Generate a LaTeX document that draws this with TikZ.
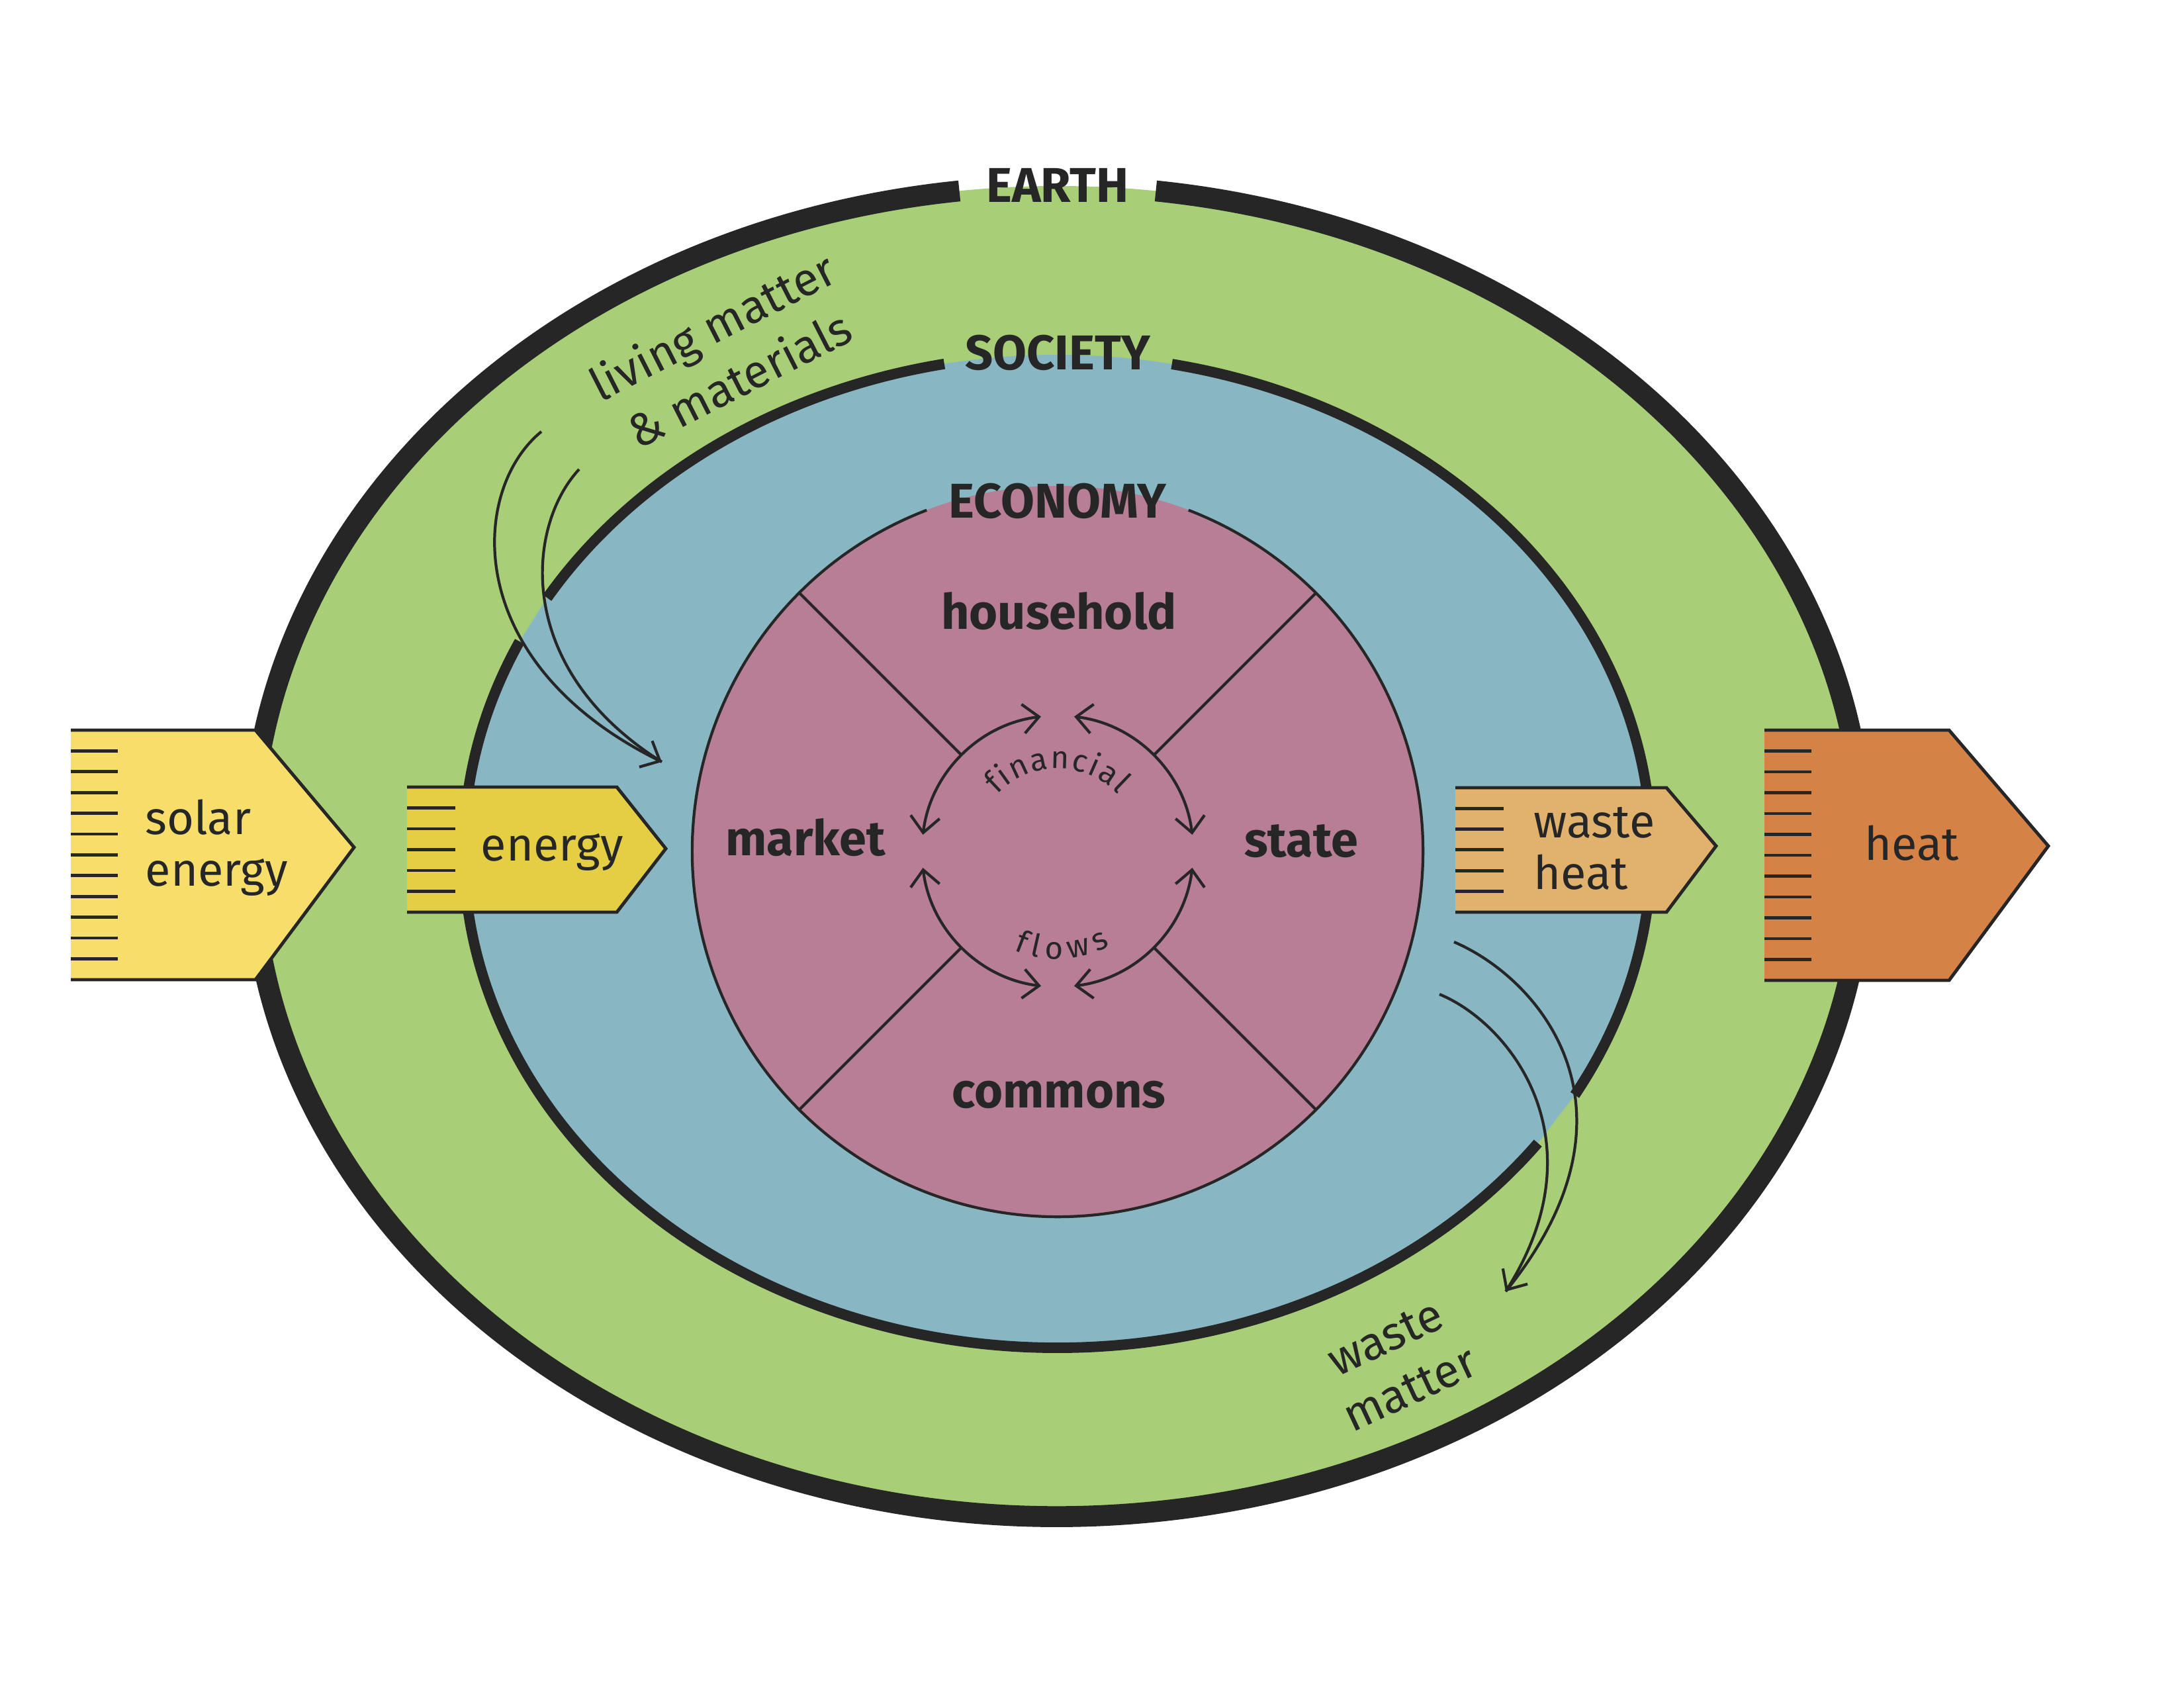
\documentclass[tikz,border=0pt]{standalone}
\usepackage{fontspec}
\setmainfont{Fira Sans}
\usepackage{xcolor}
\usepackage{tikz}
\usetikzlibrary{arrows.meta,decorations.text,calc}

\definecolor{earthgreen}{HTML}{A8CF77}
\definecolor{societyblue}{HTML}{88B6C3}
\definecolor{economypink}{HTML}{B77E96}
\definecolor{solaryellow}{HTML}{F7DE6B}
\definecolor{energyyellow}{HTML}{E4CF44}
\definecolor{wasteorange}{HTML}{E0B26E}
\definecolor{heatorange}{HTML}{D48246}
\definecolor{ink}{HTML}{262626}

\begin{document}
\begin{tikzpicture}[
    >={Straight Barb[length=0.24cm,width=0.44cm]},
    thinline/.style={draw=ink, line width=1.2pt},
    chevronline/.style={draw=ink, line width=1.4pt},
    textlabel/.style={text=ink, font=\fontsize{20}{22}\selectfont},
    ringlabel/.style={text=ink, font=\fontsize{21}{23}\selectfont\bfseries},
]
    \fill[white] (0,0) rectangle (33,-25.5);
    \useasboundingbox (0,0) rectangle (33,-25.5);
    \coordinate (C) at (15.98,-12.86);

    % Earth
    \fill[earthgreen] (C) ellipse[x radius=12.18, y radius=10.05];
    \draw[ink, line width=9pt] (C) ++(97:12.18 and 10.05)
        arc[start angle=97, end angle=443, x radius=12.18, y radius=10.05];

    % Society
    \fill[societyblue] (C) ellipse[x radius=8.97, y radius=7.50];
    \fill[earthgreen] (C) ++(149.3:8.97 and 7.50)
        arc[start angle=149.3, end angle=155, x radius=8.97, y radius=7.50] -- cycle;
    \fill[earthgreen] (C) ++(324:8.97 and 7.50)
        arc[start angle=324, end angle=330.6, x radius=8.97, y radius=7.50] -- cycle;
    \draw[ink, line width=4.5pt] (C) ++(101:8.97 and 7.50)
        arc[start angle=101, end angle=149.3, x radius=8.97, y radius=7.50];
    \draw[ink, line width=4.5pt] (C) ++(155:8.97 and 7.50)
        arc[start angle=155, end angle=324, x radius=8.97, y radius=7.50];
    \draw[ink, line width=4.5pt] (C) ++(330.6:8.97 and 7.50)
        arc[start angle=330.6, end angle=438.9, x radius=8.97, y radius=7.50];

    % Economy
    \fill[economypink] (C) circle[radius=5.52];
    \draw[thinline] (C) ++(111:5.52) arc[start angle=111, end angle=429, radius=5.52];
    \foreach \a in {45,135,225,315}
        \draw[thinline] (C) ++(\a:2.05) -- ++(\a:3.47);

    % Financial flows
    \draw[thinline, <->] (C) ++(97:2.05) arc[start angle=97, end angle=173, radius=2.05];
    \draw[thinline, <->] (C) ++(83:2.05) arc[start angle=83, end angle=7, radius=2.05];
    \draw[thinline, <->] (C) ++(187:2.05) arc[start angle=187, end angle=263, radius=2.05];
    \draw[thinline, <->] (C) ++(277:2.05) arc[start angle=277, end angle=353, radius=2.05];
    \path[decorate, decoration={text along path, text color=ink, text align=fit to path,
        text={|\fontsize{13.5}{15}\selectfont|financial}}]
        (C) ++(137:1.25) arc[start angle=137, end angle=43, radius=1.25];
    \path[decorate, decoration={text along path, text color=ink, text align=fit to path,
        text={|\fontsize{13.5}{15}\selectfont|flows}}]
        (C) ++(246:1.63) arc[start angle=246, end angle=299, radius=1.63];

    % Ring and sector labels
    \node[ringlabel] (earth) at (15.98,-2.80) {EARTH};
    \node[ringlabel] (society) at (15.98,-5.33) {SOCIETY};
    \node[ringlabel] (economy) at (15.98,-7.57) {ECONOMY};
    \node[ringlabel, anchor=base] (household) at (16.00,-9.50) {household};
    \node[ringlabel, anchor=base] (market) at (12.17,-12.92) {market};
    \node[ringlabel, anchor=base] (state) at (19.66,-12.94) {state};
    \node[ringlabel, anchor=base] (commons) at (16.00,-16.73) {commons};

    % Matter in and out
    \node[textlabel, align=center, rotate=27, font=\fontsize{20}{25.5}\selectfont]
        (living) at (10.96,-5.32) {living matter\\\& materials};
    \node[textlabel, align=center, rotate=25, font=\fontsize{20}{24.5}\selectfont]
        (wastematter) at (21.12,-20.60) {waste\\matter};
    \coordinate (lmstartA) at (8.18,-6.52);
    \coordinate (lmstartB) at (8.75,-7.09);
    \coordinate (lmend) at (10.00,-11.51);
    \draw[thinline, ->] (lmstartA) .. controls (7.10,-7.40) and (6.95,-10.00) .. (lmend);
    \draw[thinline] (lmstartB) .. controls (7.95,-7.95) and (7.75,-10.10) .. (lmend);
    \coordinate (wmstartA) at (21.97,-14.23);
    \coordinate (wmstartB) at (21.75,-15.02);
    \coordinate (wmend) at (22.75,-19.51);
    \draw[thinline] (wmstartA) .. controls (23.30,-14.80) and (24.95,-16.80) .. (wmend);
    \draw[thinline, ->] (wmstartB) .. controls (22.80,-15.45) and (24.20,-17.20) .. (wmend);

    % Solar energy
    \fill[solaryellow] (1.07,-11.03) -- (3.86,-11.03) -- (5.35,-12.80) -- (3.86,-14.80) -- (1.07,-14.80) -- cycle;
    \draw[chevronline] (1.07,-11.03) -- (3.86,-11.03) -- (5.35,-12.80) -- (3.86,-14.80) -- (1.07,-14.80);
    \foreach \k in {1,...,11}
        \draw[chevronline] (1.07,{-11.03-0.314*\k}) -- ++(0.71,0);
    \node[textlabel, align=left, anchor=base west, inner sep=0] (solar) at (2.19,-13.38) {solar\\energy};

    % Energy
    \fill[energyyellow] (6.15,-11.89) -- (9.32,-11.89) -- (10.06,-12.82) -- (9.32,-13.78) -- (6.15,-13.78) -- cycle;
    \draw[chevronline] (6.15,-11.89) -- (9.32,-11.89) -- (10.06,-12.82) -- (9.32,-13.78) -- (6.15,-13.78);
    \foreach \k in {1,...,5}
        \draw[chevronline] (6.15,{-11.89-0.315*\k}) -- ++(0.73,0);
    \node[textlabel, anchor=base west, inner sep=0] (energy) at (7.26,-13.00) {energy};

    % Waste heat
    \fill[wasteorange] (21.99,-11.90) -- (25.18,-11.90) -- (25.93,-12.78) -- (25.18,-13.78) -- (21.99,-13.78) -- cycle;
    \draw[chevronline] (21.99,-11.90) -- (25.18,-11.90) -- (25.93,-12.78) -- (25.18,-13.78) -- (21.99,-13.78);
    \foreach \k in {1,...,5}
        \draw[chevronline] (21.99,{-11.90-0.313*\k}) -- ++(0.73,0);
    \node[textlabel, align=left, anchor=base west, inner sep=0] (wasteheat) at (23.17,-13.43) {waste\\heat};

    % Heat
    \fill[heatorange] (26.66,-11.03) -- (29.45,-11.03) -- (30.95,-12.78) -- (29.45,-14.81) -- (26.66,-14.81) -- cycle;
    \draw[chevronline] (26.66,-11.03) -- (29.45,-11.03) -- (30.95,-12.78) -- (29.45,-14.81) -- (26.66,-14.81);
    \foreach \k in {1,...,11}
        \draw[chevronline] (26.66,{-11.03-0.315*\k}) -- ++(0.71,0);
    \node[textlabel, anchor=base west, inner sep=0] (heat) at (28.17,-12.99) {heat};
\end{tikzpicture}
\end{document}
